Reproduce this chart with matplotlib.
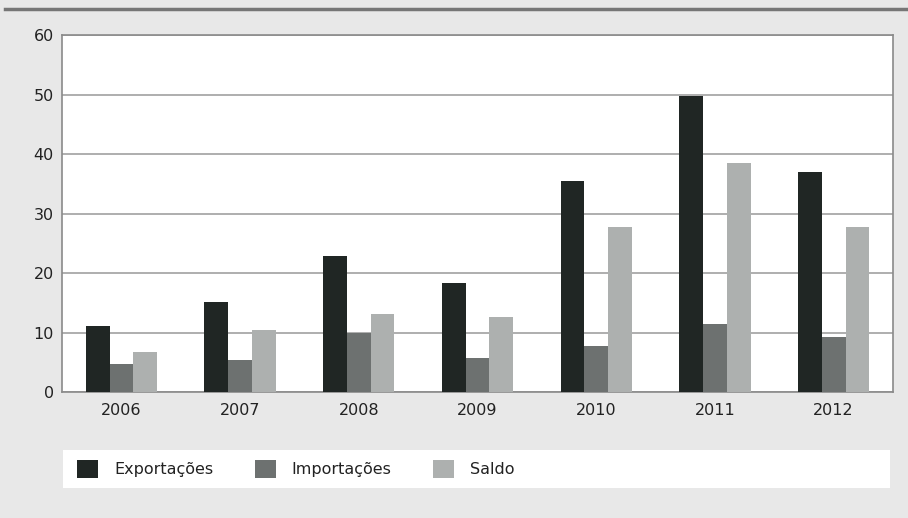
"""Exportações, importações e saldo, 2006-2012."""
import matplotlib
matplotlib.use('Agg')

import matplotlib.pyplot as plt
from matplotlib.lines import Line2D
from matplotlib.patches import Rectangle
import numpy as np

anos = ['2006', '2007', '2008', '2009', '2010', '2011', '2012']
exportacoes = [11.1, 15.1, 22.9, 18.3, 35.5, 49.7, 37.0]
importacoes = [4.7, 5.4, 9.9, 5.7, 7.7, 11.4, 9.2]
saldo = [6.7, 10.4, 13.1, 12.6, 27.7, 38.5, 27.7]

yticks = [0, 10, 20, 30, 40, 50, 60]

plt.rcParams['font.family'] = ['DejaVu Sans']

fig = plt.figure(figsize=(9.08, 5.18), dpi=100)
fig.patch.set_facecolor('#e8e8e8')

ax = fig.add_axes([0.0683, 0.2432, 0.9152, 0.6892])
ax.set_facecolor('white')

x = np.arange(len(anos))
w = 0.2
ax.bar(x - w, exportacoes, w, color='#202624', label='Exportações', zorder=3)
ax.bar(x, importacoes, w, color='#6d7170', label='Importações', zorder=3)
ax.bar(x + w, saldo, w, color='#adb0af', label='Saldo', zorder=3)

ax.set_xlim(-0.5, len(anos) - 0.5)
ax.set_ylim(0, 60)
ax.set_yticks(yticks)
ax.set_xticks(x)
ax.set_xticklabels(anos)
ax.tick_params(axis='both', length=0, labelsize=11.5, colors='#222222')
ax.tick_params(axis='x', pad=8)
ax.tick_params(axis='y', pad=6)
ax.grid(axis='y', color='#a8a8a8', lw=1.3, zorder=1)
for s in ax.spines.values():
    s.set_color('#8a8a8a')
    s.set_linewidth(1.2)

# dark rule on top
fig.add_artist(Line2D([0.005, 1.0], [0.982, 0.982], color='#767676', lw=2.5,
                      transform=fig.transFigure))

# white legend band
fig.add_artist(Rectangle((63 / 908, (518 - 488) / 518), (890 - 63) / 908, 38 / 518,
                         transform=fig.transFigure, facecolor='white',
                         edgecolor='none', zorder=0))
leg = fig.legend(loc='center left', bbox_to_anchor=(63 / 908, (518 - 469) / 518),
                 ncol=3, frameon=False, fontsize=11.5, handlelength=1.3,
                 handleheight=1.3, handletextpad=1.0, columnspacing=2.6)
for t in leg.get_texts():
    t.set_color('#222222')

fig.savefig('out.png', dpi=100, facecolor=fig.get_facecolor())
